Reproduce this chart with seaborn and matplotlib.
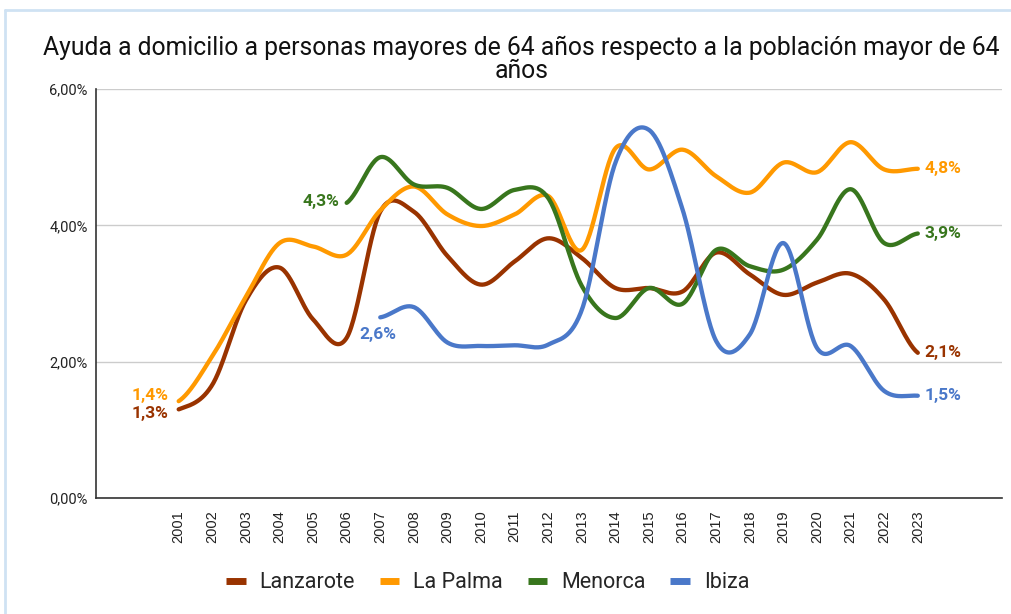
import matplotlib
matplotlib.use("Agg")
import matplotlib.pyplot as plt
from matplotlib.lines import Line2D
import numpy as np
import pandas as pd
import seaborn as sns

# --- data (percent) ---
years = [str(y) for y in range(2001, 2024)]
lanzarote = [1.30, 1.66, 2.90, 3.38, 2.62, 2.35, 4.20, 4.20, 3.55, 3.13, 3.47, 3.81,
             3.52, 3.08, 3.08, 3.03, 3.60, 3.28, 2.98, 3.16, 3.29, 2.91, 2.13]
la_palma = [1.42, 2.08, 2.95, 3.74, 3.69, 3.57, 4.22, 4.57, 4.16, 3.99, 4.16, 4.43,
            3.64, 5.13, 4.82, 5.11, 4.72, 4.48, 4.92, 4.78, 5.22, 4.82, 4.83]
menorca = [None] * 5 + [4.33, 5.00, 4.60, 4.55, 4.24, 4.52, 4.40,
                        3.11, 2.64, 3.08, 2.85, 3.64, 3.40, 3.35, 3.79, 4.53, 3.74, 3.88]
ibiza = [None] * 6 + [2.65, 2.80, 2.28, 2.23, 2.24, 2.25,
                      2.76, 4.92, 5.40, 4.23, 2.30, 2.40, 3.74, 2.20, 2.23, 1.57, 1.50]

series_names = ["Lanzarote", "La Palma", "Menorca", "Ibiza"]
series_values = [lanzarote, la_palma, menorca, ibiza]
end_labels = ["2,1%", "4,8%", "3,9%", "1,5%"]
start_labels = ["1,3%", "1,4%", "4,3%", "2,6%"]
colors = {"Lanzarote": "#993300", "La Palma": "#ff9900",
          "Menorca": "#38761d", "Ibiza": "#4a78c9"}
y_ticks = [0, 2, 4, 6]
title = "Ayuda a domicilio a personas mayores de 64 años respecto a la población mayor de 64\naños"


def smooth(xs, ys, n=30):
    """Catmull-Rom curve through the points (drawing only)."""
    xs = np.asarray(xs, float)
    ys = np.asarray(ys, float)
    out_x, out_y = [], []
    for i in range(len(xs) - 1):
        y0 = ys[i - 1] if i > 0 else ys[i]
        y3 = ys[i + 2] if i + 2 < len(ys) else ys[i + 1]
        y1, y2 = ys[i], ys[i + 1]
        m1 = (y2 - y0) / 2
        m2 = (y3 - y1) / 2
        t = np.linspace(0, 1, n, endpoint=(i == len(xs) - 2))
        h00 = 2 * t**3 - 3 * t**2 + 1
        h10 = t**3 - 2 * t**2 + t
        h01 = -2 * t**3 + 3 * t**2
        h11 = t**3 - t**2
        out_x.append(xs[i] + t * (xs[i + 1] - xs[i]))
        out_y.append(h00 * y1 + h10 * m1 + h01 * y2 + h11 * m2)
    return np.concatenate(out_x), np.concatenate(out_y)


rows = []
for name, vals in zip(series_names, series_values):
    idx = [i for i, v in enumerate(vals) if v is not None]
    sx, sy = smooth(idx, [vals[i] for i in idx])
    rows.append(pd.DataFrame({"x": sx, "y": sy, "serie": name}))
df = pd.concat(rows, ignore_index=True)

sns.set_theme(style="white")
plt.rcParams["font.family"] = ["Roboto", "DejaVu Sans"]

fig = plt.figure(figsize=(10.12, 6.14), dpi=100)
ax = fig.add_axes([0.0949, 0.189, 0.895, 0.666])

sns.lineplot(data=df, x="x", y="y", hue="serie", palette=colors, sort=False,
             estimator=None, linewidth=3.1, legend=False, ax=ax)

# data labels at start and end of each series
offs = {"Lanzarote": (-10, -4), "La Palma": (-10, 6), "Menorca": (-7, 1), "Ibiza": (-2, -17)}
for name, vals, lab_s, lab_e in zip(series_names, series_values, start_labels, end_labels):
    idx = [i for i, v in enumerate(vals) if v is not None]
    ax.annotate(lab_e, (idx[-1], vals[idx[-1]]), xytext=(7, 0), textcoords="offset pixels",
                ha="left", va="center", color=colors[name], fontsize=12.5, fontweight="bold")
    ha = "center" if name == "Ibiza" else "right"
    ax.annotate(lab_s, (idx[0], vals[idx[0]]), xytext=offs[name], textcoords="offset pixels",
                ha=ha, va="center", color=colors[name], fontsize=12.5, fontweight="bold")

ax.set_xlim(-2.46, 24.5)
ax.set_ylim(0, 6)
ax.set_xticks(range(len(years)))
ax.set_xticklabels(years, rotation=90, fontsize=10.5, color="#222222",
                   family=["Liberation Sans", "DejaVu Sans"])
ax.set_yticks(y_ticks)
ax.set_yticklabels([f"{v:.2f}%".replace(".", ",") for v in y_ticks], fontsize=10.5, color="#222222")
ax.tick_params(axis="x", length=0, pad=9)
ax.tick_params(axis="y", length=0, pad=6)
ax.set_xlabel("")
ax.set_ylabel("")
ax.grid(axis="y", color="#cccccc", linewidth=1)
ax.set_axisbelow(True)
for s in ["top", "right"]:
    ax.spines[s].set_visible(False)
for s in ["left", "bottom"]:
    ax.spines[s].set_color("#333333")
    ax.spines[s].set_linewidth(1.2)

fig.text(0.515, 0.903, title, ha="center", va="center", fontsize=17.8, linespacing=0.98,
         color="#111111")

handles = [Line2D([], [], linewidth=5, solid_capstyle="butt",
                  color=colors[n]) for n in series_names]
fig.legend(handles, series_names, loc="center", bbox_to_anchor=(0.482, 0.051), ncol=4,
           frameon=False, fontsize=15.5, handlelength=0.9, handletextpad=0.65,
           columnspacing=1.15)

# light blue card border on the left and top
fig.add_artist(Line2D([0.005, 0.005], [0, 0.984], color="#cfe2f3", linewidth=2,
                      transform=fig.transFigure))
fig.add_artist(Line2D([0.005, 1], [0.984, 0.984], color="#cfe2f3", linewidth=2,
                      transform=fig.transFigure))

fig.savefig("out.png", dpi=100, facecolor="white")
